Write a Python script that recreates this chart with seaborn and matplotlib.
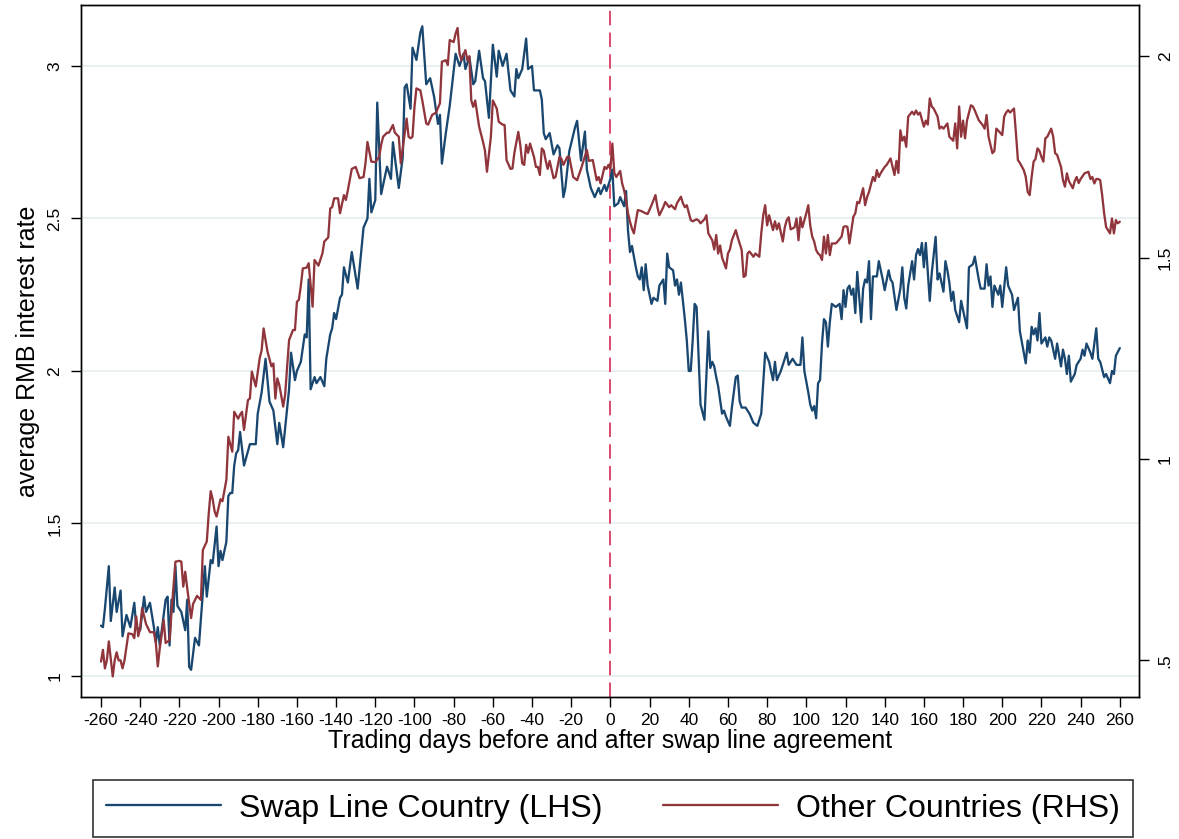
import numpy as np
import pandas as pd
import matplotlib
matplotlib.use("Agg")
import matplotlib.pyplot as plt
import seaborn as sns
from matplotlib.lines import Line2D

# ---------------- data ----------------
swap_days = [-260,-259,-258,-256,-255,-253,-252,-250,-249,-247,-245,-243,-242,-240,-238,-237,-235,-233,-232,-231,
             -230,-227,-226,-225,-224,-223,-222,-221,-219,-217,-216,-215,-214,-212,-210,-207,-206,-204,-203,-201,
             -200,-199,-198,-196,-195,-194,-193,-192,-191,-190,-189,-187,-184,-181,-180,-178,-176,-174,-172,-170,
             -169,-167,-164,-163,-161,-160,-158,-156,-155,-154,-153,-151,-150,-148,-146,-145,-143,-142,-141,-140,
             -138,-137,-136,-134,-132,-129,-126,-124,-123,-122,-120,-119,-117,-114,-112,-111,-108,-106,-105,-104,
             -102,-101,-99,-97,-96,-94,-92,-90,-88,-87,-86,-84,-82,-79,-77,-75,-74,-72,-70,-69,
             -67,-65,-64,-62,-60,-58,-57,-55,-53,-51,-49,-48,-47,-45,-43,-42,-40,-39,-36,-35,
             -34,-33,-31,-29,-27,-26,-24,-23,-21,-18,-17,-15,-13,-12,-10,-8,-6,-5,-3,-2,
             0,1,2,4,5,7,8,9,10,11,13,14,15,16,17,18,19,21,22,24,
             25,27,28,29,30,32,33,34,35,36,38,39,40,41,42,43,44,45,46,48,
             50,51,52,53,54,55,57,58,59,61,62,64,65,66,67,69,71,73,75,77,
             79,81,83,84,85,87,90,91,93,95,97,98,99,101,102,103,104,105,106,107,
             108,109,110,111,112,113,115,117,118,119,120,121,122,123,124,125,126,128,129,130,
             131,132,133,134,136,137,139,140,142,143,144,146,148,149,150,151,152,154,155,156,
             157,158,159,160,161,163,164,166,167,168,170,171,172,173,174,175,176,178,179,181,
             182,183,185,186,188,189,191,192,193,194,195,196,198,199,200,202,203,205,206,207,
             208,209,211,212,213,214,215,216,217,218,219,220,222,223,224,225,227,228,230,231,
             232,233,234,235,237,238,240,241,242,243,245,246,248,249,250,252,253,255,256,257,
             258,260]
swap_rate = [1.165,1.16,1.22,1.36,1.18,1.29,1.21,1.28,1.13,1.20,1.16,1.24,1.16,1.15,1.26,1.21,1.24,1.16,1.11,1.16,
             1.10,1.25,1.26,1.10,1.25,1.21,1.36,1.23,1.21,1.15,1.25,1.03,1.02,1.125,1.10,1.36,1.26,1.38,1.37,1.49,
             1.36,1.41,1.38,1.44,1.59,1.60,1.60,1.69,1.73,1.74,1.80,1.69,1.76,1.76,1.86,1.93,2.04,1.90,1.87,1.76,
             1.83,1.75,1.94,2.06,1.97,2.00,2.03,2.12,2.11,2.30,1.94,1.98,1.96,1.98,1.95,2.04,2.12,2.14,2.19,2.17,
             2.24,2.25,2.34,2.29,2.39,2.27,2.47,2.50,2.63,2.52,2.56,2.88,2.58,2.67,2.63,2.75,2.60,2.70,2.93,2.94,
             2.86,3.06,3.02,3.11,3.13,2.94,2.96,2.90,2.81,2.84,2.68,2.78,2.87,3.04,3.00,3.04,2.99,3.03,2.94,2.95,
             3.05,2.96,2.95,2.83,3.07,2.965,3.05,3.00,3.04,2.92,2.90,2.99,2.96,2.99,3.09,2.99,3.00,2.92,2.92,2.89,
             2.78,2.76,2.78,2.71,2.74,2.73,2.57,2.60,2.72,2.80,2.82,2.69,2.785,2.66,2.60,2.57,2.60,2.58,2.61,2.59,
             2.63,2.66,2.54,2.55,2.57,2.54,2.59,2.46,2.39,2.41,2.34,2.31,2.30,2.34,2.265,2.35,2.28,2.22,2.24,2.23,
             2.28,2.30,2.22,2.385,2.34,2.33,2.28,2.30,2.25,2.29,2.17,2.10,2.00,2.00,2.10,2.22,2.21,2.05,1.89,1.84,
             2.13,2.01,2.03,2.015,1.98,1.95,1.86,1.87,1.85,1.82,1.88,1.98,1.985,1.90,1.88,1.88,1.86,1.83,1.82,1.86,
             2.06,2.03,1.97,2.03,1.97,2.00,2.06,2.02,2.04,2.02,2.02,2.11,2.00,1.93,1.89,1.87,1.885,1.845,1.96,1.97,
             2.09,2.17,2.16,2.08,2.16,2.22,2.21,2.22,2.17,2.265,2.21,2.27,2.28,2.25,2.27,2.19,2.325,2.16,2.27,2.30,
             2.29,2.36,2.17,2.31,2.31,2.36,2.30,2.265,2.33,2.30,2.29,2.20,2.27,2.34,2.24,2.205,2.28,2.36,2.30,2.38,
             2.40,2.38,2.42,2.34,2.42,2.23,2.32,2.44,2.30,2.32,2.26,2.36,2.33,2.29,2.23,2.26,2.20,2.16,2.23,2.17,
             2.14,2.34,2.35,2.375,2.30,2.27,2.27,2.35,2.28,2.31,2.21,2.28,2.25,2.28,2.21,2.34,2.28,2.25,2.20,2.22,
             2.24,2.13,2.06,2.025,2.10,2.06,2.145,2.12,2.14,2.10,2.19,2.09,2.11,2.08,2.11,2.10,2.04,2.09,2.015,2.07,
             2.04,1.99,2.05,1.965,1.99,2.02,2.04,2.07,2.05,2.09,2.06,2.04,2.14,2.04,2.03,1.98,1.99,1.96,2.00,1.99,
             2.05,2.075]

other_days = [-260,-259,-258,-257,-256,-254,-253,-252,-251,-250,-249,-248,-246,-244,-243,-242,-241,-240,-239,-238,
              -237,-235,-233,-232,-231,-230,-228,-227,-225,-224,-223,-222,-220,-219,-218,-217,-216,-214,-213,-211,
              -209,-208,-206,-205,-204,-203,-202,-201,-199,-198,-196,-195,-193,-192,-190,-189,-188,-187,-185,-184,
              -183,-181,-179,-178,-177,-175,-173,-172,-171,-170,-169,-167,-166,-165,-164,-162,-161,-160,-159,-158,
              -157,-155,-154,-152,-151,-149,-147,-146,-144,-143,-142,-141,-139,-138,-136,-135,-134,-132,-130,-128,
              -126,-125,-124,-122,-120,-118,-117,-116,-114,-113,-111,-110,-108,-107,-106,-104,-103,-102,-101,-100,
              -99,-97,-96,-94,-93,-91,-89,-87,-86,-84,-83,-82,-80,-79,-78,-77,-76,-74,-73,-72,
              -71,-70,-69,-67,-65,-64,-63,-61,-60,-58,-57,-55,-54,-53,-51,-50,-49,-47,-46,-45,
              -44,-43,-42,-41,-39,-38,-37,-36,-35,-34,-33,-32,-31,-29,-28,-26,-25,-24,-22,-21,
              -20,-19,-17,-15,-12,-11,-9,-7,-6,-5,-3,-2,-1,0,1,2,3,5,6,7,
              8,9,10,11,12,13,14,16,17,19,21,23,24,25,27,28,30,31,33,34,
              36,37,38,39,41,42,44,45,46,48,49,50,52,53,54,55,56,57,59,60,
              61,62,64,65,67,68,69,70,71,73,74,76,77,78,79,80,81,83,84,85,
              86,88,89,90,91,92,94,95,96,97,98,100,101,102,103,104,105,106,107,108,
              109,110,111,112,113,115,116,118,119,120,121,122,124,125,126,127,129,130,131,132,
              134,135,136,137,138,140,141,143,144,145,146,147,148,149,150,151,152,154,155,156,
              157,158,160,161,162,163,164,165,167,168,169,170,172,173,175,176,177,178,179,180,
              181,182,184,185,186,188,190,191,192,193,195,196,197,198,200,201,202,203,204,206,
              207,208,209,211,212,213,214,215,216,217,218,219,220,221,222,223,225,226,227,228,
              230,231,232,233,234,236,237,238,239,240,242,244,245,246,247,248,249,250,251,252,
              253,255,256,257,258,259,260]
other_rate = [0.497,0.526,0.48,0.50,0.547,0.46,0.50,0.52,0.50,0.50,0.48,0.50,0.567,0.565,0.555,0.609,0.56,0.58,0.63,0.61,
              0.59,0.57,0.57,0.543,0.485,0.53,0.60,0.543,0.55,0.62,0.683,0.745,0.747,0.745,0.683,0.72,0.68,0.605,0.64,0.66,
              0.65,0.774,0.795,0.865,0.92,0.90,0.87,0.857,0.90,0.895,0.948,1.055,1.018,1.117,1.10,1.11,1.117,1.072,1.146,1.15,
              1.217,1.18,1.25,1.27,1.324,1.266,1.23,1.237,1.15,1.20,1.184,1.13,1.16,1.229,1.295,1.32,1.32,1.39,1.395,1.43,
              1.473,1.475,1.486,1.378,1.494,1.48,1.51,1.54,1.55,1.622,1.625,1.647,1.647,1.61,1.655,1.643,1.667,1.72,1.725,1.697,
              1.70,1.734,1.787,1.738,1.737,1.75,1.78,1.80,1.81,1.81,1.829,1.81,1.80,1.734,1.77,1.845,1.80,1.796,1.80,1.874,
              1.92,1.915,1.89,1.833,1.83,1.854,1.86,1.883,1.986,1.99,1.978,2.04,2.035,2.056,2.07,2.007,1.99,2.015,1.99,2.00,
              1.89,1.874,1.89,1.825,1.787,1.765,1.713,1.80,1.89,1.87,1.837,1.83,1.829,1.742,1.72,1.721,1.76,1.812,1.78,1.734,
              1.73,1.78,1.76,1.783,1.75,1.725,1.725,1.705,1.771,1.765,1.74,1.72,1.74,1.697,1.70,1.75,1.745,1.73,1.75,1.75,
              1.725,1.70,1.692,1.72,1.767,1.74,1.742,1.692,1.70,1.684,1.725,1.72,1.73,1.72,1.783,1.71,1.70,1.715,1.684,1.667,
              1.643,1.61,1.589,1.572,1.56,1.59,1.618,1.615,1.612,1.608,1.63,1.655,1.625,1.605,1.625,1.638,1.625,1.63,1.62,1.635,
              1.651,1.635,1.625,1.63,1.593,1.59,1.595,1.592,1.585,1.595,1.605,1.56,1.543,1.52,1.556,1.51,1.53,1.50,1.473,1.51,
              1.52,1.543,1.568,1.55,1.519,1.452,1.455,1.51,1.515,1.502,1.51,1.502,1.56,1.605,1.63,1.58,1.605,1.568,1.59,1.57,
              1.585,1.54,1.575,1.593,1.60,1.57,1.575,1.597,1.543,1.60,1.575,1.61,1.63,1.58,1.552,1.54,1.519,1.51,1.506,1.494,
              1.552,1.51,1.556,1.506,1.535,1.535,1.54,1.552,1.576,1.578,1.576,1.535,1.601,1.61,1.638,1.635,1.672,1.63,1.65,1.663,
              1.70,1.69,1.717,1.70,1.71,1.725,1.73,1.746,1.725,1.705,1.74,1.71,1.816,1.79,1.80,1.775,1.85,1.862,1.855,1.865,
              1.855,1.86,1.825,1.84,1.83,1.895,1.875,1.87,1.85,1.82,1.825,1.82,1.833,1.80,1.79,1.833,1.771,1.875,1.80,1.84,
              1.796,1.84,1.878,1.875,1.865,1.841,1.829,1.82,1.854,1.80,1.759,1.765,1.82,1.815,1.804,1.85,1.86,1.866,1.86,1.87,
              1.808,1.742,1.735,1.717,1.70,1.663,1.655,1.70,1.738,1.745,1.771,1.765,1.75,1.738,1.796,1.80,1.82,1.80,1.759,1.755,
              1.725,1.692,1.676,1.709,1.69,1.672,1.69,1.70,1.685,1.695,1.709,1.713,1.695,1.70,1.684,1.695,1.695,1.692,1.655,1.61,
              1.576,1.56,1.597,1.56,1.593,1.585,1.589]

x_ticks = list(range(-260, 261, 20))
left_ticks = [1, 1.5, 2, 2.5, 3]
left_labels = ["1", "1.5", "2", "2.5", "3"]
right_ticks = [0.5, 1, 1.5, 2]
right_labels = [".5", "1", "1.5", "2"]

swap = pd.DataFrame({"day": swap_days, "rate": swap_rate})
other = pd.DataFrame({"day": other_days, "rate": other_rate})

# ---------------- style ----------------
sns.set_theme(style="white")
plt.rcParams["font.family"] = ["Liberation Sans", "DejaVu Sans"]
plt.rcParams["axes.unicode_minus"] = False
for key in ("text.color", "axes.labelcolor", "xtick.color", "ytick.color"):
    plt.rcParams[key] = "black"

BLUE = "#1a476f"
RED = "#90353b"
GRID = "#e6eff1"

W, H = 1179, 839
fig = plt.figure(figsize=(W / 100, H / 100), dpi=100)
fig.patch.set_facecolor("white")
ax = fig.add_axes([81 / W, 1 - 697 / H, (1139 - 81) / W, (697 - 5) / H])
ax2 = ax.twinx()

ax.set_xlim(-270.2, 269.8)
ax.set_ylim(0.931, 3.2)
ax2.set_ylim(0.409, 2.127)

for yv in left_ticks:
    ax.axhline(yv, color=GRID, lw=1.3, zorder=0)

ax.axvline(0, color="#d93a5f", lw=1.3, ls=(0, (8, 4)), zorder=1)

sns.lineplot(data=swap, x="day", y="rate", ax=ax, color=BLUE, lw=1.65, zorder=3, legend=False)
sns.lineplot(data=other, x="day", y="rate", ax=ax2, color=RED, lw=1.65, zorder=3, legend=False)

ax.set_xticks(x_ticks)
ax.set_xticklabels([str(t) for t in x_ticks])
ax.set_yticks(left_ticks)
ax.set_yticklabels(left_labels)
ax2.set_yticks(right_ticks)
ax2.set_yticklabels(right_labels)

for a in (ax, ax2):
    for s in a.spines.values():
        s.set_color("black")
        s.set_linewidth(1.0)
    a.tick_params(direction="out", length=7.5, width=1.0, color="black",
                  labelcolor="black", labelsize=12.5, pad=4)

ax.tick_params(axis="x", bottom=True, top=False)
ax.tick_params(axis="y", left=True, right=False, labelrotation=90, pad=6)
ax2.tick_params(axis="y", right=True, left=False, labelrotation=90, pad=6)
for lab in ax.get_yticklabels():
    lab.set_va("center")
for lab in ax2.get_yticklabels():
    lab.set_va("center")

ax.set_xlabel("Trading days before and after swap line agreement", fontsize=18, labelpad=1, color="black")
ax.set_ylabel("average RMB interest rate", fontsize=18, labelpad=5, color="black")
ax2.set_ylabel("")

handles = [Line2D([], [], color=BLUE, lw=1.65), Line2D([], [], color=RED, lw=1.65)]
labels = ["Swap Line Country (LHS)", "Other Countries (RHS)"]
leg = fig.legend(handles, labels, loc="lower left",
                 bbox_to_anchor=(93 / W, 1 - 837 / H, (1133 - 93) / W, (837 - 778) / H),
                 mode="expand", ncol=2, fontsize=23, frameon=True, fancybox=False,
                 handlelength=3.6, handletextpad=0.55, borderpad=0.42, borderaxespad=0.0,
                 columnspacing=1.3, labelcolor="black")
leg.get_frame().set_edgecolor("black")
leg.get_frame().set_linewidth(1.2)

fig.savefig("out.png", dpi=100, facecolor="white")
